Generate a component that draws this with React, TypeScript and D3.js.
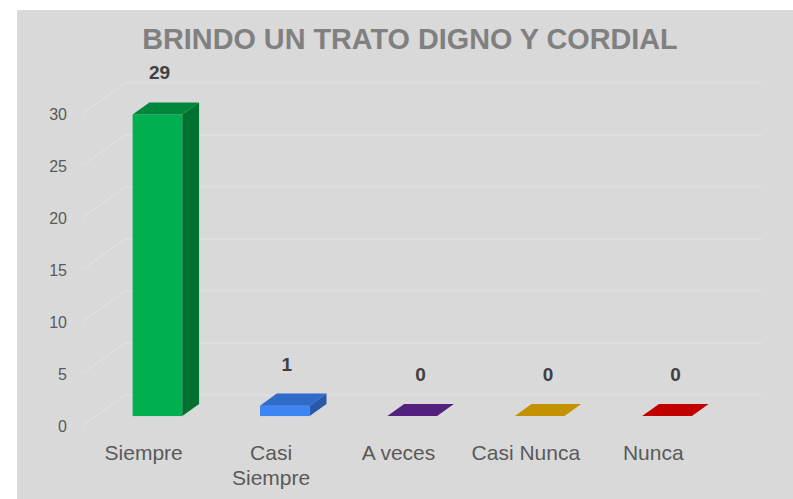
import React from "react";
import * as d3 from "d3";

const categories = ["Siempre", "Casi Siempre", "A veces", "Casi Nunca", "Nunca"];
const values = [29, 1, 0, 0, 0];
const yTicks = [0, 5, 10, 15, 20, 25, 30];
const title = "BRINDO UN TRATO DIGNO Y CORDIAL";

const frontColors = ["#00B050", "#3D85F5", "#7030A0", "#C89600", "#C80000"];
const topColors = ["#00873C", "#2F6BC8", "#54207E", "#C49200", "#C20000"];
const sideColors = ["#00712F", "#2A58A8", "#451A68", "#A07800", "#A00000"];

const W = 793;
const H = 499;
const FONT = "'Liberation Sans', Arial, sans-serif";

// 3D geometry
const DX = 43;
const DY = -31;
const F1 = 0.32;
const F2 = 0.71;

function measure(text: string, size: number) {
  const c = document.createElement("canvas");
  const ctx = c.getContext("2d");
  if (!ctx) return text.length * size * 0.55;
  ctx.font = `${size}px ${FONT}`;
  return ctx.measureText(text).width;
}

function wrap(text: string, size: number, maxW: number): string[] {
  if (measure(text, size) <= maxW) return [text];
  const words = text.split(" ");
  const lines: string[] = [];
  let cur = "";
  for (const w of words) {
    const t = cur ? cur + " " + w : w;
    if (cur && measure(t, size) > maxW) {
      lines.push(cur);
      cur = w;
    } else cur = t;
  }
  if (cur) lines.push(cur);
  return lines;
}

export default function App() {
  const x = d3
    .scaleBand<string>()
    .domain(categories)
    .range([80, 717])
    .paddingInner(0.61)
    .paddingOuter(0.305);
  const y = d3.scaleLinear().domain([0, 30]).range([426, 114]);
  const step = x.step();
  const bw = x.bandwidth();

  const pts = (arr: [number, number][]) => arr.map((p) => p.join(",")).join(" ");

  return (
    <svg
      width={W}
      height={H}
      style={{ position: "absolute", left: 0, top: 0 }}
      fontFamily={FONT}
    >
      <rect x={0} y={0} width={W} height={H} fill="#ffffff" />
      <rect x={17} y={10} width={W - 17} height={H - 10} fill="#D9D9D9" />
      <text
        x={410}
        y={49}
        textAnchor="middle"
        fontSize={28.8}
        fontWeight="bold"
        fill="#808080"
      >
        {title}
      </text>

      {/* gridlines: side wall + back wall */}
      {yTicks.map((t) => (
        <g key={"g" + t}>
          <line
            x1={82}
            y1={y(t)}
            x2={82 + DX}
            y2={y(t) + DY}
            stroke="#E3E3E3"
            strokeWidth={1}
          />
          <line
            x1={82 + DX}
            y1={y(t) + DY}
            x2={719 + DX}
            y2={y(t) + DY}
            stroke="#E3E3E3"
            strokeWidth={1}
          />
        </g>
      ))}

      {/* y tick labels */}
      {yTicks.map((t) => (
        <text
          key={"t" + t}
          x={67}
          y={y(t) + 2}
          textAnchor="end"
          dominantBaseline="middle"
          fontSize={16}
          fill="#595959"
        >
          {t}
        </text>
      ))}

      {/* bars */}
      {categories.map((c, i) => {
        const v = values[i];
        const x0 = (x(c) as number) + F1 * DX;
        const x1 = x0 + bw;
        const yb = y(0) + F1 * DY;
        const yt = y(v) + F1 * DY;
        const ddx = (F2 - F1) * DX;
        const ddy = (F2 - F1) * DY;
        return (
          <g key={"b" + c}>
            {v > 0 && (
              <>
                <rect x={x0} y={yt} width={bw} height={yb - yt} fill={frontColors[i]} />
                <polygon
                  points={pts([
                    [x1, yt],
                    [x1 + ddx, yt + ddy],
                    [x1 + ddx, yb + ddy],
                    [x1, yb],
                  ])}
                  fill={sideColors[i]}
                />
              </>
            )}
            <polygon
              points={pts([
                [x0, yt],
                [x1, yt],
                [x1 + ddx, yt + ddy],
                [x0 + ddx, yt + ddy],
              ])}
              fill={topColors[i]}
            />
            <text
              x={x0 + bw / 2 + (v === 0 ? ddx / 2 : 2)}
              y={yt + ddy - 23}
              textAnchor="middle"
              fontSize={19}
              fontWeight="bold"
              fill="#404040"
            >
              {v}
            </text>
          </g>
        );
      })}

      {/* category labels */}
      {categories.map((c) => {
        const lines = wrap(c, 21, step - 6);
        const cx = (x(c) as number) + bw / 2;
        return (
          <text key={"c" + c} x={cx} y={460} textAnchor="middle" fontSize={21} fill="#595959">
            {lines.map((l, k) => (
              <tspan key={k} x={cx} dy={k === 0 ? 0 : 25}>
                {l}
              </tspan>
            ))}
          </text>
        );
      })}
    </svg>
  );
}
